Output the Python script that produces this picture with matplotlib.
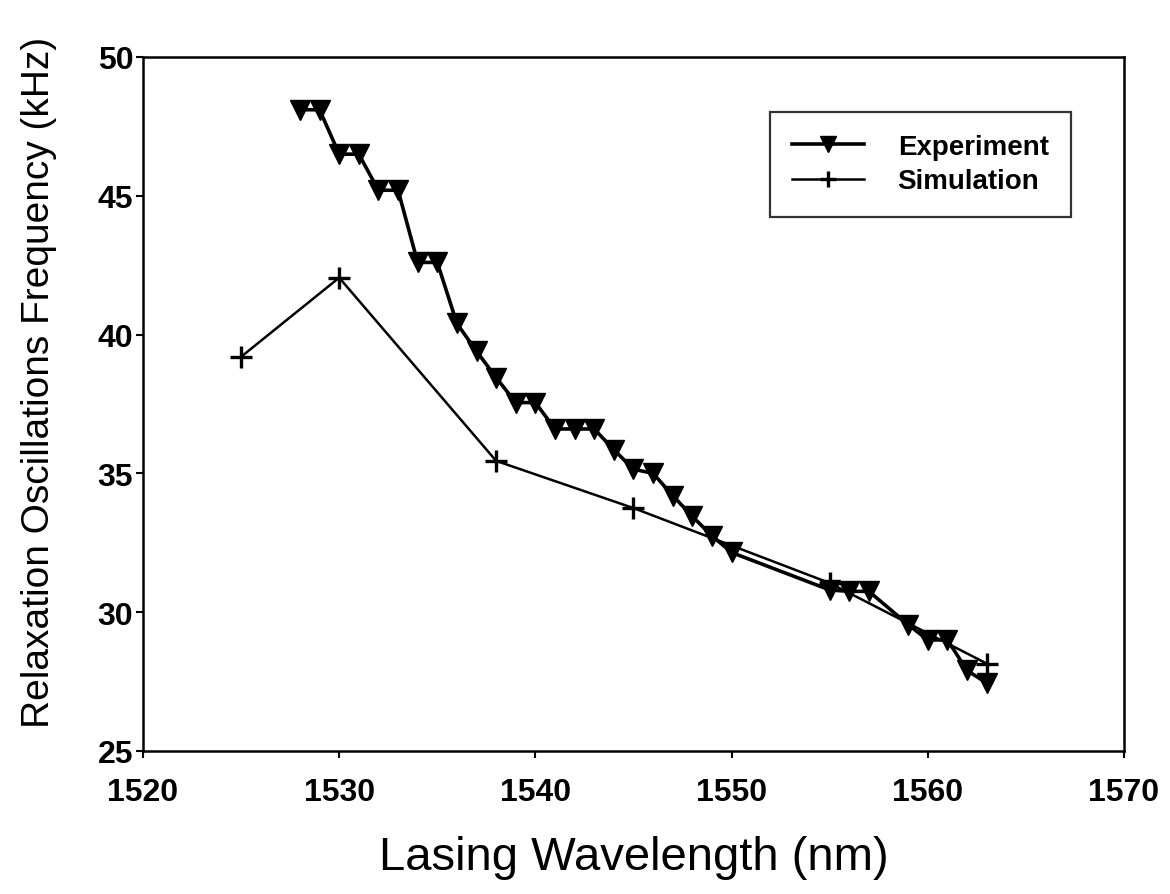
import matplotlib
matplotlib.use("Agg")
import matplotlib.pyplot as plt

# Experiment: lasing wavelength (nm) vs relaxation oscillation frequency (kHz)
exp_wavelength = [1528, 1529, 1530, 1531, 1532, 1533, 1534, 1535, 1536, 1537,
                  1538, 1539, 1540, 1541, 1542, 1543, 1544, 1545, 1546, 1547,
                  1548, 1549, 1550, 1555, 1556, 1557, 1559, 1560, 1561, 1562,
                  1563]
exp_frequency = [48.1, 48.1, 46.5, 46.5, 45.2, 45.2, 42.6, 42.6, 40.4, 39.4,
                 38.45, 37.55, 37.55, 36.6, 36.6, 36.6, 35.85, 35.15, 35.0, 34.2,
                 33.45, 32.75, 32.15, 30.8, 30.75, 30.75, 29.55, 29.0, 29.0, 27.9,
                 27.45]

# Simulation
sim_wavelength = [1525, 1530, 1538, 1545, 1555, 1563]
sim_frequency = [39.2, 42.05, 35.45, 33.75, 31.05, 28.15]

x_ticks = [1520, 1530, 1540, 1550, 1560, 1570]
y_ticks = [25, 30, 35, 40, 45, 50]

plt.rcParams["font.family"] = ["Liberation Sans", "DejaVu Sans"]

fig = plt.figure(figsize=(11.7, 8.95), dpi=100)
ax = fig.add_axes([0.1222, 0.1598, 0.8385, 0.7754])

ax.plot(exp_wavelength, exp_frequency, color="black", linewidth=2.6,
        marker="v", markersize=15, label="Experiment")
ax.plot(sim_wavelength, sim_frequency, color="black", linewidth=1.8,
        marker="+", markersize=16, markeredgewidth=2.4, label="Simulation")

ax.set_xlim(1520, 1570)
ax.set_ylim(25, 50)
ax.set_xticks(x_ticks)
ax.set_yticks(y_ticks)
ax.tick_params(axis="x", direction="out", length=5, width=1.5, labelsize=23,
               top=False, pad=14)
ax.tick_params(axis="y", direction="out", length=5, width=1.5, labelsize=23,
               right=False, pad=2)
for lab in ax.get_xticklabels() + ax.get_yticklabels():
    lab.set_fontweight("bold")

for s in ax.spines.values():
    s.set_linewidth(1.8)

ax.set_xlabel("Lasing Wavelength (nm)", fontsize=34, labelpad=20)
ax.set_ylabel("Relaxation Oscillations Frequency (kHz)", fontsize=28)
ax.yaxis.set_label_coords(-0.088, 0.533)

leg = ax.legend(loc="upper left", bbox_to_anchor=(0.639, 0.921), fontsize=20,
                frameon=True, fancybox=False, handlelength=2.6,
                borderpad=0.8, labelspacing=0.3, handletextpad=1.2,
                borderaxespad=0, markerscale=0.75)
leg.get_frame().set_edgecolor("black")
leg.get_frame().set_linewidth(1.6)
for t in leg.get_texts():
    t.set_fontweight("bold")

fig.savefig("out.png", dpi=100)
